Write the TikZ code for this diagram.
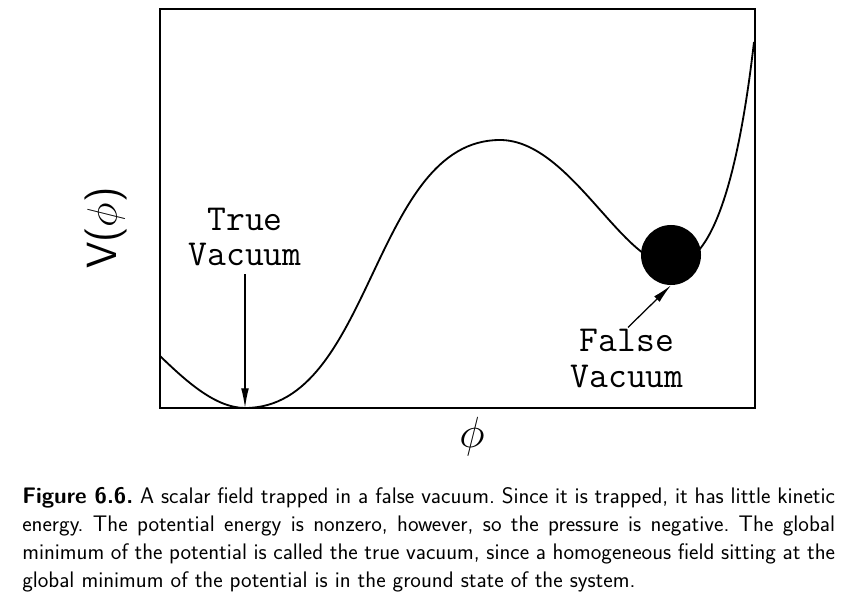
\RequirePackage{fix-cm}
\documentclass[tikz,border=0pt]{standalone}
\usetikzlibrary{arrows.meta,positioning}

\begin{document}
\begin{tikzpicture}[
  x=0.025cm, y=-0.025cm,
  frame/.style={draw, line width=1.4pt},
  curve/.style={line width=1.3pt},
  lbl/.style={font=\fontsize{26}{26}\selectfont\ttfamily, anchor=base, inner sep=0pt},
  ball/.style={circle, fill=black, minimum size=1.5cm, inner sep=0pt},
  arr/.style={-{Latex[length=14pt,width=5.5pt]}, line width=0.9pt},
  axislbl/.style={font=\fontsize{30}{30}\selectfont\sffamily, inner sep=0pt}
]
\useasboundingbox (0,0) rectangle (856,604);

% plot frame
\draw[frame] (160,9) rectangle (755,408);

% the potential
\draw[curve] (160,356) .. controls (185,380) and (215,408) .. (245,408)
  .. controls (373,408) and (372,140) .. (500,140)
  .. controls (570,140) and (622,265) .. (672,265)
  .. controls (712,265) and (738,180) .. (754,42);

\node[ball] (ball) at (671,255) {};
\coordinate (tvmin) at (245,408);

% labels
\node[lbl] (tvtop) at (245,230) {True};
\node[lbl] (tv) at (245,265) {Vacuum};
\node[lbl] (fvtop) at (627,351) {False};
\node[lbl] (fv) at (627,387) {Vacuum};
\draw[arr, shorten <=6pt] (tv.south) -- (tvmin);
\draw[arr, shorten <=1pt] (fvtop.north) -- (ball.south);

\node[axislbl, rotate=90] (vphi) at (106,228) {V($\phi$)};
\node[axislbl, font=\fontsize{31}{31}\selectfont] (phi) at (472,437) {$\phi$};

% caption
\node[anchor=north west, inner sep=0pt, text width=578pt, align=justify,
  font=\fontsize{16}{19.9}\selectfont\sffamily\frenchspacing] (cap) at (22,487)
  {\textbf{Figure 6.6.} A scalar field trapped in a false vacuum. Since it is trapped, it has little kinetic\linebreak
  energy. The potential energy is nonzero, however, so the pressure is negative. The global\linebreak
  minimum of the potential is called the true vacuum, since a homogeneous field sitting at the\linebreak
  global minimum of the potential is in the ground state of the system.};
\end{tikzpicture}
\end{document}
